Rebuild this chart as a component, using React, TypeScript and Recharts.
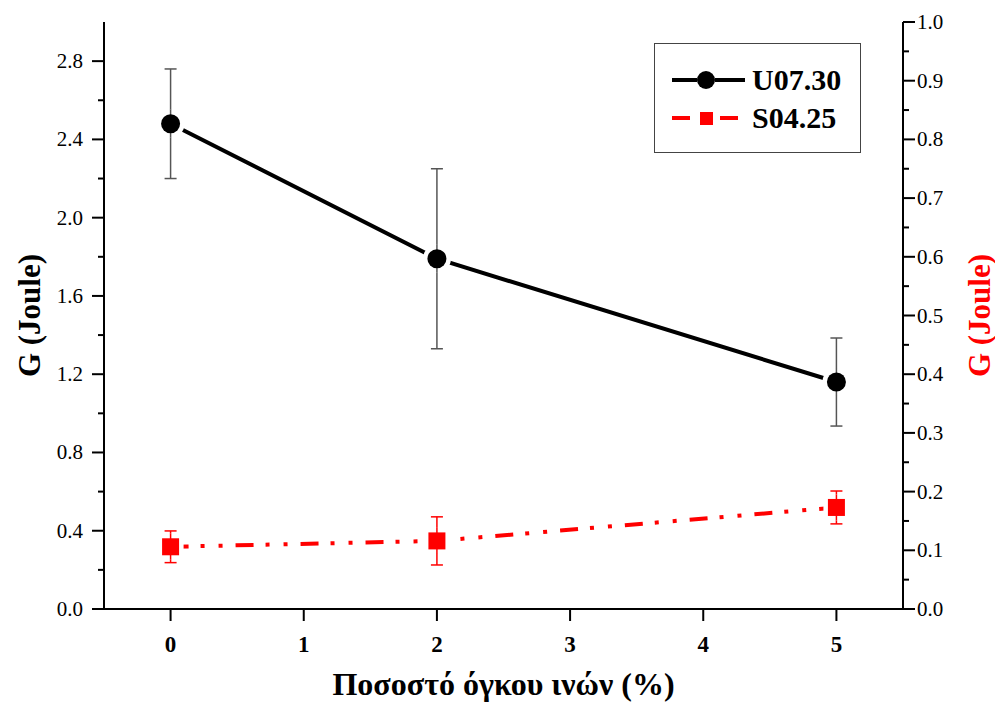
import React from 'react';
import { ComposedChart, Line, XAxis, YAxis, ErrorBar, Legend } from 'recharts';

// fibre volume fraction (%)
const fiberContent = [0, 2, 5];
// U07.30 – left axis
const u0730 = [2.48, 1.79, 1.16];
const u0730Err = [0.28, 0.46, 0.225];
// S04.25 – right axis
const s0425 = [0.106, 0.116, 0.173];
const s0425Err = [0.027, 0.041, 0.028];

const xTicks = [0, 1, 2, 3, 4, 5];
const leftMajor = [0, 0.4, 0.8, 1.2, 1.6, 2.0, 2.4, 2.8];
const leftMinor = [0.2, 0.6, 1.0, 1.4, 1.8, 2.2, 2.6];
const rightMajor = [0, 0.1, 0.2, 0.3, 0.4, 0.5, 0.6, 0.7, 0.8, 0.9, 1.0];
const rightMinor = [0.05, 0.15, 0.25, 0.35, 0.45, 0.55, 0.65, 0.75, 0.85, 0.95];

const data = fiberContent.map((x, i) => ({
  x,
  u: u0730[i],
  uErr: u0730Err[i],
  s: s0425[i],
  sErr: s0425Err[i],
}));

const FONT = 'Liberation Serif';
const RED = '#ff0000';
const ERR_GREY = '#555555';

const LeftTick = (props: any) => {
  const { x, y, payload } = props;
  const major = leftMajor.includes(payload.value);
  return (
    <g>
      <line x1={x} x2={x - (major ? 12 : 6)} y1={y} y2={y} stroke="#000" strokeWidth={2} />
      {major && (
        <text x={x - 21} y={y} dy={7} textAnchor="end" fontSize={21} style={{ fontFamily: FONT }} fill="#000">
          {payload.value.toFixed(1)}
        </text>
      )}
    </g>
  );
};

const RightTick = (props: any) => {
  const { x, y, payload } = props;
  const major = rightMajor.includes(payload.value);
  return (
    <g>
      <line x1={x} x2={x + (major ? 12 : 6)} y1={y} y2={y} stroke="#000" strokeWidth={2} />
      {major && (
        <text x={x + 14} y={y} dy={7} textAnchor="start" fontSize={21} style={{ fontFamily: FONT }} fill="#000">
          {payload.value.toFixed(1)}
        </text>
      )}
    </g>
  );
};

const BottomTick = (props: any) => {
  const { x, y, payload } = props;
  return (
    <g>
      <line x1={x} x2={x} y1={y} y2={y + 12} stroke="#000" strokeWidth={2} />
      <text x={x} y={y + 43} textAnchor="middle" fontSize={23} fontWeight="bold" style={{ fontFamily: FONT }} fill="#000">
        {payload.value}
      </text>
    </g>
  );
};

const TopTick = (props: any) => {
  const { x, y } = props;
  return <line x1={x} x2={x} y1={y} y2={y + 12} stroke="#000" strokeWidth={2} />;
};

// markers with a white halo so the line stops short of them, like the original
const renderCircle = (props: any) => {
  const { cx, cy, index } = props;
  return (
    <g key={`c-${index}`}>
      <circle cx={cx} cy={cy} r={14} fill="#fff" />
      <line x1={cx} x2={cx} y1={cy - 14} y2={cy + 14} stroke={ERR_GREY} strokeWidth={1.5} />
      <circle cx={cx} cy={cy} r={9.5} fill="#000" />
    </g>
  );
};

const renderSquare = (props: any) => {
  const { cx, cy, index } = props;
  return (
    <g key={`s-${index}`}>
      <rect x={cx - 13} y={cy - 13} width={26} height={26} fill="#fff" />
      <line x1={cx} x2={cx} y1={cy - 13} y2={cy + 13} stroke={RED} strokeWidth={1.5} />
      <rect x={cx - 8.5} y={cy - 8.5} width={17} height={17} fill={RED} />
    </g>
  );
};

const renderLegend = () => (
  <svg width={207} height={110} style={{ display: 'block' }}>
    <rect x={0.5} y={0.5} width={206} height={109} fill="#fff" stroke="#444" strokeWidth={1} />
    <line x1={18} x2={43} y1={37} y2={37} stroke="#000" strokeWidth={4} />
    <circle cx={52} cy={37} r={9} fill="#000" />
    <line x1={61} x2={91} y1={37} y2={37} stroke="#000" strokeWidth={4} />
    <text x={98} y={47} fontSize={30} fontWeight="bold" style={{ fontFamily: FONT }} fill="#000">U07.30</text>
    <line x1={18} x2={36} y1={75} y2={75} stroke={RED} strokeWidth={4} />
    <rect x={46} y={69} width={13} height={13} fill={RED} />
    <line x1={66} x2={84} y1={75} y2={75} stroke={RED} strokeWidth={4} />
    <text x={98} y={85} fontSize={30} fontWeight="bold" style={{ fontFamily: FONT }} fill="#000">S04.25</text>
  </svg>
);

const yTitle = (color: string, dx: number) => (props: any) => {
  const { x, y, width, height } = props.viewBox;
  const cx = dx < 0 ? x + width + dx : x + dx;
  const cy = y + height / 2;
  return (
    <text
      x={cx}
      y={cy}
      transform={`rotate(-90 ${cx} ${cy})`}
      textAnchor="middle"
      dominantBaseline="central"
      fontSize={31}
      fontWeight="bold"
      style={{ fontFamily: FONT }}
      fill={color}
    >
      G (Joule)
    </text>
  );
};

const xTitle = (props: any) => {
  const { x, y, width } = props.viewBox;
  return (
    <text x={x + width / 2} y={y + 86} textAnchor="middle" fontSize={32} fontWeight="bold" style={{ fontFamily: FONT }} fill="#000">
      Ποσοστό όγκου ινών (%)
    </text>
  );
};

export default function App() {
  return (
    <div style={{ position: 'absolute', left: 0, top: 0, background: '#fff' }}>
      <ComposedChart width={995} height={707} data={data} margin={{ top: 22, right: 12, bottom: 38, left: 24 }}>
        <XAxis
          xAxisId="top"
          orientation="top"
          type="number"
          dataKey="x"
          domain={[-0.5, 5.5]}
          ticks={xTicks}
          interval={0}
          height={0}
          tickSize={0}
          tickMargin={0}
          tick={TopTick}
          axisLine={{ stroke: '#000', strokeWidth: 2 }}
          allowDataOverflow
        />
        <XAxis
          type="number"
          dataKey="x"
          domain={[-0.5, 5.5]}
          ticks={xTicks}
          interval={0}
          height={60}
          tickSize={0}
          tickMargin={0}
          tick={BottomTick}
          axisLine={{ stroke: '#000', strokeWidth: 2 }}
          allowDataOverflow
          label={{ content: xTitle }}
        />
        <YAxis
          yAxisId="left"
          domain={[0, 3]}
          ticks={[...leftMajor, ...leftMinor]}
          interval={0}
          width={80}
          tickSize={0}
          tickMargin={0}
          tick={LeftTick}
          axisLine={{ stroke: '#000', strokeWidth: 2 }}
          allowDataOverflow
          label={{ content: yTitle('#000', 5) }}
        />
        <YAxis
          yAxisId="right"
          orientation="right"
          domain={[0, 1]}
          ticks={[...rightMajor, ...rightMinor]}
          interval={0}
          width={80}
          tickSize={0}
          tickMargin={0}
          tick={RightTick}
          axisLine={{ stroke: '#000', strokeWidth: 2 }}
          allowDataOverflow
          label={{ content: yTitle(RED, -4) }}
        />
        <Legend
          verticalAlign="middle"
          layout="horizontal"
          align="center"
          wrapperStyle={{ left: 654, top: 43, width: 207, height: 110 }}
          content={renderLegend}
        />
        <Line
          yAxisId="left"
          dataKey="u"
          name="U07.30"
          stroke="#000"
          strokeWidth={4}
          dot={renderCircle}
          activeDot={false}
          isAnimationActive={false}
        >
          <ErrorBar dataKey="uErr" direction="y" width={6} stroke={ERR_GREY} strokeWidth={1.5} />
        </Line>
        <Line
          yAxisId="right"
          dataKey="s"
          name="S04.25"
          stroke={RED}
          strokeWidth={4}
          strokeDasharray="18 12 4 14 4 13"
          dot={renderSquare}
          activeDot={false}
          isAnimationActive={false}
        >
          <ErrorBar dataKey="sErr" direction="y" width={6} stroke={RED} strokeWidth={1.5} />
        </Line>
      </ComposedChart>
    </div>
  );
}
